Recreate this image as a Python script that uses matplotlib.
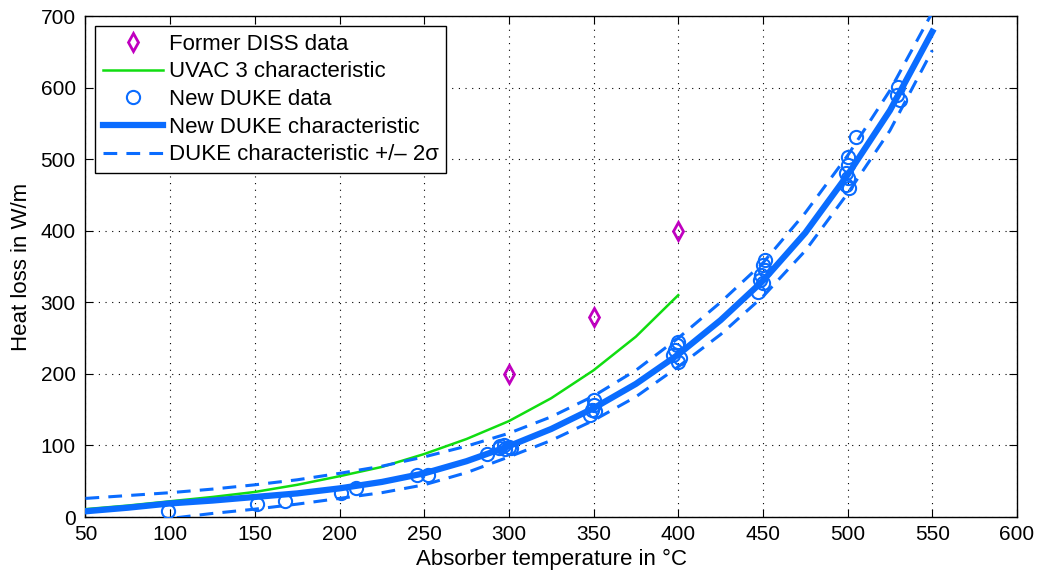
import matplotlib
matplotlib.use("Agg")
import matplotlib.pyplot as plt

plt.rcParams['font.family'] = ['Liberation Sans', 'DejaVu Sans']

# ── data ──────────────────────────────────────────────────────────────────────

diss_T = [300, 350, 400]
diss_Q = [200, 280, 400]

uvac_T = [50, 75, 100, 125, 150, 175, 200, 225, 250, 275, 300, 325, 350, 375, 400]
uvac_Q = [11, 16, 22, 28, 35, 45, 57, 70, 88, 109, 134, 166, 205, 252, 310]

duke_T = [99, 151, 168, 201, 210, 246, 252, 287,
          294, 295, 297, 298, 300, 301,
          348, 349, 350, 350, 351,
          397, 398, 399, 400, 400, 401,
          447, 448, 449, 450, 450, 451, 451,
          499, 499, 500, 500, 500, 501, 505,
          529, 530, 531]
duke_Q = [8, 18, 22, 33, 40, 59, 59, 88,
          96, 99, 100, 95, 98, 97,
          143, 150, 156, 163, 148,
          226, 233, 240, 245, 217, 222,
          314, 331, 338, 352, 327, 359, 345,
          464, 480, 492, 503, 473, 460, 531,
          590, 601, 583]

char_T = [50, 75, 100, 125, 150, 175, 200, 225, 250, 275, 300,
          325, 350, 375, 400, 425, 450, 475, 500, 525, 550]
char_Q = [8, 13, 19, 23, 28, 33, 40, 49, 61, 78, 99,
          123, 152, 186, 227, 275, 330, 397, 478, 568, 678]
char_up = [26, 30, 34, 39, 45, 52, 61, 71, 84, 99, 117,
           140, 169, 205, 250, 300, 355, 425, 505, 596, 705]
char_lo = [-10, -5, -2, 5, 11, 18, 26, 34, 45, 62, 84,
           107, 135, 168, 210, 255, 308, 372, 452, 540, 652]

blue = '#0a6cff'

# ── plot ──────────────────────────────────────────────────────────────────────

fig = plt.figure(figsize=(10.41, 5.76), dpi=100)
ax = fig.add_axes([0.0821, 0.1024, 0.8948, 0.8698])

ax.plot(diss_T, diss_Q, 'd', color='#c000c0', mfc='none', mew=2, ms=9,
        label='Former DISS data', zorder=5)
ax.plot(uvac_T, uvac_Q, '-', color='#11dd11', lw=1.8,
        label='UVAC 3 characteristic', zorder=3)
ax.plot(duke_T, duke_Q, 'o', color=blue, mfc='none', mew=1.5, ms=9.5,
        label='New DUKE data', zorder=4)
ax.plot(char_T, char_Q, '-', color=blue, lw=4.5,
        label='New DUKE characteristic', zorder=3)
ax.plot(char_T, char_up, '--', color=blue, lw=2.2, dashes=(4.5, 3),
        label='DUKE characteristic +/– 2σ', zorder=3)
ax.plot(char_T, char_lo, '--', color=blue, lw=2.2, dashes=(4.5, 3), zorder=3)

ax.set_xlim(50, 600)
ax.set_ylim(0, 700)
ax.set_xticks(range(50, 601, 50))
ax.set_yticks(range(0, 701, 100))
ax.tick_params(direction='in', top=True, right=True, labelsize=15, length=6)
ax.tick_params(axis='x', pad=6)
ax.tick_params(axis='y', pad=7)
ax.grid(True, color='black', linestyle=(0, (1, 5)), lw=0.8)
for s in ax.spines.values():
    s.set_linewidth(1.0)

ax.set_xlabel('Absorber temperature in °C', fontsize=16, labelpad=3)
ax.set_ylabel('Heat loss in W/m', fontsize=16, labelpad=6)

leg = ax.legend(loc='upper left', fontsize=16, handlelength=2.7,
                borderaxespad=0.45, borderpad=0.35, labelspacing=0.3,
                handletextpad=0.25, fancybox=False, framealpha=1,
                edgecolor='black')
leg.get_frame().set_linewidth(1.0)

fig.savefig('out.png', dpi=100)
